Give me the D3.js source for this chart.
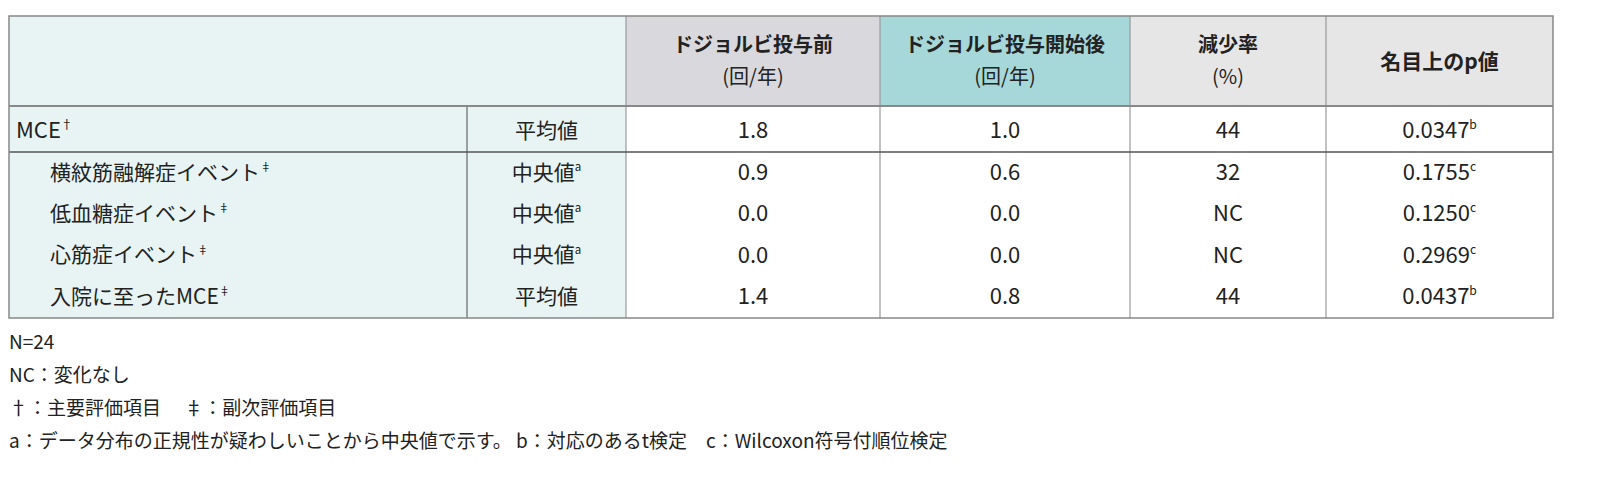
<!DOCTYPE html>
<html><head><meta charset="utf-8">
<script src="https://cdn.jsdelivr.net/npm/d3@7"></script>
<style>body{margin:0;background:#fff}svg{display:block}</style>
</head><body><svg id="c" width="1600" height="480"></svg>
<script>
const headers = [['ドジョルビ投与前', '(回/年)'], ['ドジョルビ投与開始後', '(回/年)'], ['減少率', '(%)'], ['名目上のp値']];
const rowLabels = ['MCE', '横紋筋融解症イベント', '低血糖症イベント', '心筋症イベント', '入院に至ったMCE'];
const rowMarks = ['†', '‡', '‡', '‡', '‡'];
const stats = ['平均値', '中央値', '中央値', '中央値', '平均値'];
const statMarks = ['', 'a', 'a', 'a', ''];
const before = ['1.8', '0.9', '0.0', '0.0', '1.4'];
const after = ['1.0', '0.6', '0.0', '0.0', '0.8'];
const reduction = ['44', '32', 'NC', 'NC', '44'];
const pValues = ['0.0347', '0.1755', '0.1250', '0.2969', '0.0437'];
const pMarks = ['b', 'c', 'c', 'c', 'b'];
const notes = ['N=24', 'NC：変化なし', '†：主要評価項目　 ‡：副次評価項目', 'a：データ分布の正規性が疑わしいことから中央値で示す。 b：対応のあるt検定　c：Wilcoxon符号付順位検定'];

(function() {
const svg = d3.select('#c');
const font = '"Noto Sans CJK JP", "Noto Sans", sans-serif';
const colX = [9, 467, 626, 880, 1130, 1326, 1553];
const tTop = 16, headBot = 106, mceBot = 152, bot = 318;
const rowY = d3.scalePoint().domain(d3.range(1, 5)).range([172, 296]);
const colMid = i => (colX[i] + colX[i + 1]) / 2;

// backgrounds
svg.append('rect').attr('x', colX[0]).attr('y', tTop).attr('width', colX[2] - colX[0]).attr('height', bot - tTop).attr('fill', '#e8f4f4');
const headFill = ['#d9d8dd', '#a6d8da', '#e6e6e6', '#e6e6e6'];
headFill.forEach((f, i) => svg.append('rect').attr('x', colX[i + 2]).attr('y', tTop).attr('width', colX[i + 3] - colX[i + 2]).attr('height', headBot - tTop).attr('fill', f));

// lines
const line = (x1, y1, x2, y2, c, w) => svg.append('line').attr('x1', x1).attr('y1', y1).attr('x2', x2).attr('y2', y2).attr('stroke', c).attr('stroke-width', w);
colX.slice(2, 6).forEach(x => line(x, tTop, x, bot, '#999', 1.2));
line(colX[1], headBot, colX[1], bot, '#666', 1.2);
line(colX[0], headBot, colX[6], headBot, '#888', 2);
line(colX[0], mceBot, colX[6], mceBot, '#555', 1.5);
svg.append('rect').attr('x', colX[0]).attr('y', tTop).attr('width', colX[6] - colX[0]).attr('height', bot - tTop).attr('fill', 'none').attr('stroke', '#888').attr('stroke-width', 1.5);

// headers
headers.forEach((h, i) => {
  const t = svg.append('text').attr('x', colMid(i + 2)).attr('text-anchor', 'middle').attr('font-family', font).attr('font-size', 20).attr('fill', '#222');
  if (h.length === 2) {
    t.append('tspan').attr('x', colMid(i + 2)).attr('y', 52).attr('font-weight', 'bold').text(h[0]);
    t.append('tspan').attr('x', colMid(i + 2)).attr('y', 84).text(h[1]);
  } else {
    t.attr('y', 69).attr('font-weight', 'bold').attr('font-size', 21).text(h[0]);
  }
});

// body
const yOf = r => r === 0 ? 130 : rowY(r);
const cell = (x, y, s, sup, anchor, size) => {
  const t = svg.append('text').attr('x', x).attr('y', y).attr('dy', '0.36em').attr('text-anchor', anchor)
    .attr('font-family', font).attr('font-size', size).attr('fill', '#222').text(s);
  if (sup) t.append('tspan').attr('font-size', size * 0.55).attr('dy', '-0.75em').text(sup);
};
rowLabels.forEach((l, r) => {
  const y = yOf(r);
  cell(r === 0 ? 16 : 50, y, l, rowMarks[r], 'start', r === 0 ? 22 : 21);
  cell(colMid(1), y, stats[r], statMarks[r], 'middle', 21);
  cell(colMid(2), y, before[r], '', 'middle', 22);
  cell(colMid(3), y, after[r], '', 'middle', 22);
  cell(colMid(4), y, reduction[r], '', 'middle', 22);
  cell(colMid(5), y, pValues[r], pMarks[r], 'middle', 22);
});

// footnotes
const noteY = d3.scalePoint().domain(d3.range(notes.length)).range([342, 441]);
notes.forEach((n, i) => svg.append('text').attr('x', 9).attr('y', noteY(i)).attr('dy', '0.36em')
  .attr('font-family', font).attr('font-size', 19).attr('fill', '#222').text(n));
})();
</script></body></html>
